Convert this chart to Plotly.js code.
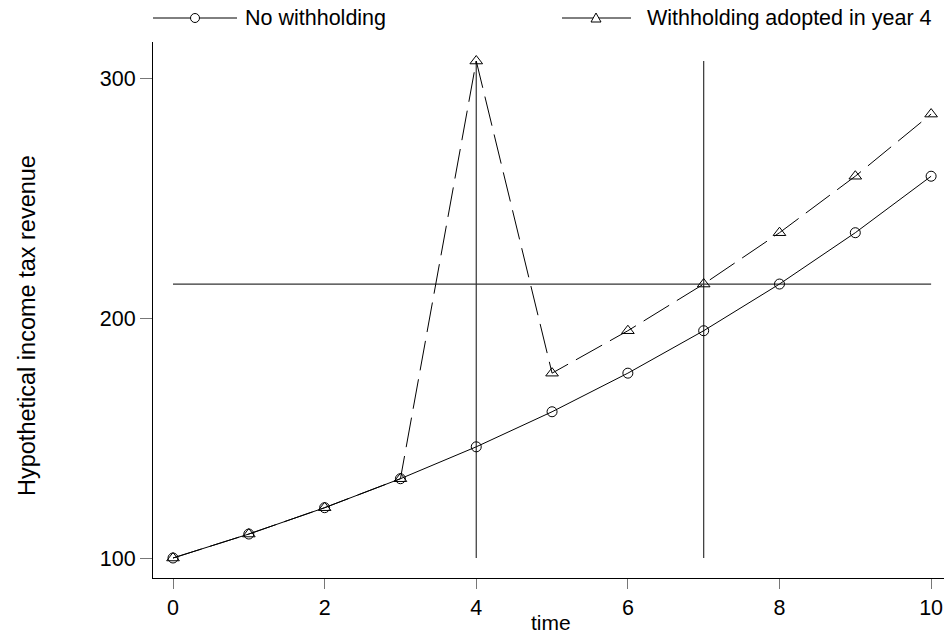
<!DOCTYPE html>
<html><head><meta charset="utf-8">
<script src="https://cdn.plot.ly/plotly-3.0.1.min.js"></script>
<style>body{margin:0}#c{width:944px;height:638px}</style>
</head><body><div id="c"></div>
<script>
const time = [0,1,2,3,4,5,6,7,8,9,10];
const noWithholding = [100,110,121,133.1,146.41,161.05,177.16,194.87,214.36,235.79,259.37];
const withholding = [100,110,121,133.1,307.46,177.16,194.87,214.36,235.79,259.37,285.31];
const vlineX = [4,7];
const hlineY = 214.36;
const seriesNames = ["No withholding","Withholding adopted in year 4"];
const xTitle = "time";
const yTitle = "Hypothetical income tax revenue";

const ymax = Math.max(...withholding);
const traces = [
  {x:[vlineX[0],vlineX[0],null,vlineX[1],vlineX[1]], y:[100,ymax,null,100,ymax], mode:'lines',
   line:{color:'#333',width:1.2}, hoverinfo:'skip'},
  {x:[time[0], time[time.length-1]], y:[hlineY,hlineY], mode:'lines', line:{color:'#333',width:1.2}, hoverinfo:'skip'},
  {x: time, y: noWithholding, mode:'lines+markers', name: seriesNames[0],
   line:{color:'#000',width:1}, marker:{symbol:'circle-open',size:10,color:'#000',line:{width:1}}},
  {x: time, y: withholding, mode:'lines+markers', name: seriesNames[1],
   line:{color:'#000',width:1,dash:'30px,9px'}, marker:{symbol:'triangle-up-open',size:11,color:'#000',line:{width:1}}}
];

const W = 791, H = 536;
const py = 1 + (42-18)/H;
const px = p => (p-153)/W;
const shapes = [
  {type:'line', xref:'paper', yref:'paper', x0:px(153), x1:px(237), y0:py, y1:py, line:{color:'#000',width:1}},
  {type:'circle', xref:'paper', yref:'paper', xsizemode:'pixel', ysizemode:'pixel', xanchor:px(195), yanchor:py,
   x0:-4.5, x1:4.5, y0:-4.5, y1:4.5, line:{color:'#000',width:1}, fillcolor:'#fff'},
  {type:'line', xref:'paper', yref:'paper', x0:px(562), x1:px(631), y0:py, y1:py, line:{color:'#000',width:1}},
  {type:'path', xref:'paper', yref:'paper', xsizemode:'pixel', ysizemode:'pixel', xanchor:px(596), yanchor:py,
   path:'M -5 -4 L 5 -4 L 0 5 Z', line:{color:'#000',width:1}, fillcolor:'#fff'}
];
const annotations = [
  {xref:'paper', yref:'paper', x:px(243), y:py, text:seriesNames[0], showarrow:false, xanchor:'left', yanchor:'middle', font:{size:21.5,color:'#000'}},
  {xref:'paper', yref:'paper', x:px(645), y:py, text:seriesNames[1], showarrow:false, xanchor:'left', yanchor:'middle', font:{size:21.5,color:'#000'}},
  {xref:'paper', yref:'paper', x:px(27), y:(578-326)/H, text:yTitle, textangle:-90, showarrow:false, xanchor:'center', yanchor:'middle', font:{size:23.5,color:'#000'}},
  {xref:'paper', yref:'paper', x:px(551), y:-(622-578)/H, text:xTitle, showarrow:false, xanchor:'center', yanchor:'middle', font:{size:21,color:'#000'}}
];

const layout = {
  width:944, height:638, showlegend:false,
  margin:{l:153, r:0, t:42, b:60},
  paper_bgcolor:'#fff', plot_bgcolor:'#fff',
  font:{family:'Liberation Sans, Arial, sans-serif', size:21.5, color:'#000'},
  xaxis:{range:[-0.264,10.17], tickvals:[0,2,4,6,8,10], showgrid:false, zeroline:false,
    showline:true, linecolor:'#000', linewidth:1, ticks:'outside', ticklen:10, tickcolor:'#777', tickwidth:1,
    tickfont:{size:21.5}},
  yaxis:{range:[91.65,315.4], tickvals:[100,200,300], showgrid:false, zeroline:false,
    showline:true, linecolor:'#000', linewidth:1, ticks:'outside', ticklen:12, tickcolor:'#777', tickwidth:1,
    tickfont:{size:21.5}},
  shapes, annotations
};
Plotly.newPlot('c', traces, layout, {displayModeBar:false, staticPlot:true});
</script></body></html>
